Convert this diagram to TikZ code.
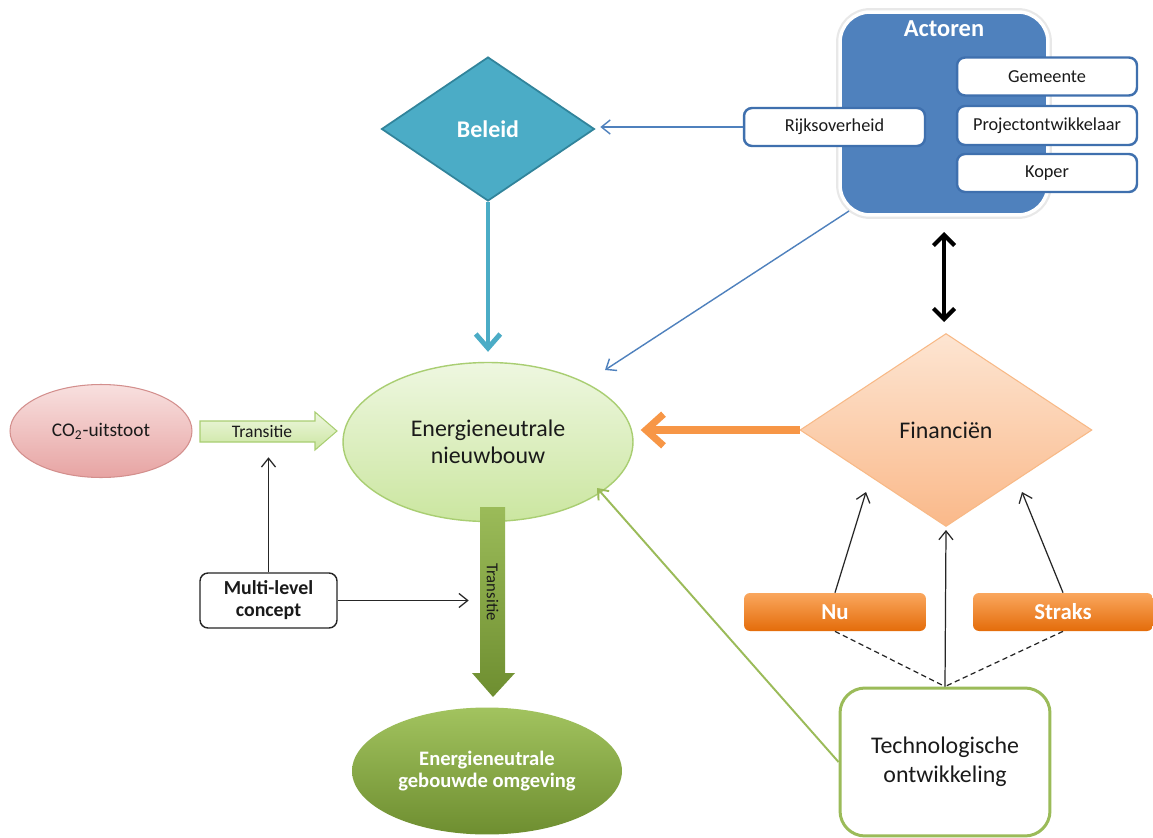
\documentclass[tikz,border=0pt]{standalone}
\usepackage{fontspec}
\setmainfont{Carlito}
\usetikzlibrary{shapes.geometric,arrows.meta,calc}
\definecolor{actblue}{HTML}{4F81BD}
\definecolor{boxblue}{HTML}{3F70AE}
\definecolor{tealA}{HTML}{4BACC6}
\definecolor{tealB}{HTML}{31849B}
\definecolor{lgreenA}{HTML}{EEF7E0}
\definecolor{lgreenB}{HTML}{CBE6A0}
\definecolor{lgreenD}{HTML}{A9CE72}
\definecolor{ogreen}{HTML}{9BBB59}
\definecolor{dgreenA}{HTML}{A2C35F}
\definecolor{dgreenB}{HTML}{6E8E30}
\definecolor{peachA}{HTML}{FDE5D2}
\definecolor{peachB}{HTML}{FAB98A}
\definecolor{peachD}{HTML}{F8B986}
\definecolor{orng}{HTML}{F79646}
\definecolor{orngA}{HTML}{FAA75E}
\definecolor{orngB}{HTML}{E46C0A}
\definecolor{pinkA}{HTML}{F8E0DF}
\definecolor{pinkB}{HTML}{E7A4A3}
\definecolor{pinkD}{HTML}{D38F8D}
\definecolor{txt}{HTML}{1A1A1A}
\tikzset{
  bigtxt/.style={font=\fontsize{13.6}{15.5}\selectfont, text=txt},
  smalltxt/.style={font=\fontsize{10.4}{12}\selectfont, text=txt},
  actorbox/.style={draw=boxblue, line width=1.4pt, fill=white, rounded corners=0.16cm,
    minimum height=0.76cm, minimum width=3.6cm, inner sep=0pt, smalltxt},
  orangebox/.style={rounded corners=0.12cm, top color=orngA, bottom color=orngB,
    minimum height=0.76cm, inner sep=0pt, text=white,
    font=\bfseries\fontsize{13}{15}\selectfont},
  thinblue/.style={line width=0.8pt, actblue, -{Straight Barb[length=5pt,width=8pt]}},
  thinblack/.style={line width=0.7pt, black!85, -{Straight Barb[length=5pt,width=8pt]}},
}
\begin{document}
\begin{tikzpicture}[x=0.02cm,y=-0.02cm]
\useasboundingbox (0,0) rectangle (1153,838);
\fill[white] (0,0) rectangle (1153,838);

% Actoren group
\node[rounded corners=0.6cm, fill=actblue, draw=white, line width=2pt,
  preaction={draw=black!9, line width=4.5pt},
  minimum width=4.16cm, minimum height=4.06cm, inner sep=0pt] (act) at (944,113.5) {};
\node[text=white, font=\bfseries\fontsize{13.9}{16}\selectfont] (actlbl) at (944,29) {Actoren};
\node[actorbox] (gem) at (1047,76.5) {Gemeente};
\node[actorbox, minimum height=0.78cm] (proj) at (1047,125.5) {Projectontwikkelaar};
\node[actorbox] (kop) at (1047,173) {Koper};
\node[actorbox, minimum width=3.62cm] (rijk) at (834.5,127) {Rijksoverheid};

% Beleid
\node[diamond, draw=tealB, fill=tealA, line width=1pt, minimum width=4.26cm,
  minimum height=2.88cm, inner sep=0pt, text=white,
  font=\bfseries\fontsize{13.6}{16}\selectfont] (beleid) at (488,129) {Beleid};

% Energieneutrale nieuwbouw
\node[ellipse, draw=lgreenD, line width=0.8pt, top color=lgreenA, bottom color=lgreenB,
  minimum width=5.8cm, minimum height=3.18cm, inner sep=0pt, align=center, bigtxt]
  (ell) at (488,442) {Energieneutrale\\nieuwbouw};

% Financien
\node[diamond, draw=peachD, line width=0.6pt, top color=peachA, bottom color=peachB,
  minimum width=5.84cm, minimum height=3.86cm, inner sep=0pt, bigtxt]
  (fin) at (946,430) {Financiën};

% Nu / Straks
\node[orangebox, minimum width=3.64cm] (nu) at (835,612) {Nu};
\node[orangebox, minimum width=3.6cm] (straks) at (1063,612) {Straks};

% Technologische ontwikkeling
\node[draw=ogreen, line width=1.7pt, rounded corners=0.5cm, fill=white,
  minimum width=4.2cm, minimum height=2.96cm, inner sep=0pt, align=center,
  font=\fontsize{13.6}{16.5}\selectfont, text=txt] (tech) at (945,762)
  {Technologische\\ontwikkeling};

% CO2
\node[ellipse, draw=pinkD, line width=0.6pt, top color=pinkA, bottom color=pinkB,
  minimum width=3.64cm, minimum height=1.86cm, inner sep=0pt,
  font=\fontsize{11}{13}\selectfont, text=txt] (co2) at (101,431) {CO\textsubscript{2}-uitstoot};

% Transitie block arrow (horizontal)
\draw[draw=lgreenD, line width=0.6pt, top color=lgreenA, bottom color=lgreenB]
  (200,421) -- (315,421) -- (315,412) -- (337,431) -- (315,450) -- (315,442) -- (200,442) -- cycle;
\node[font=\fontsize{10}{12}\selectfont, text=txt] (trans1) at (262,431) {Transitie};

% Multi-level concept
\node[draw=black!85, line width=0.8pt, rounded corners=0.16cm, fill=white,
  minimum width=2.74cm, minimum height=1.1cm, inner sep=0pt, align=center,
  font=\bfseries\fontsize{11.3}{12.5}\selectfont, text=txt] (ml) at (268.5,600.5)
  {Multi-level\\concept};

% Big green arrow (vertical)
\draw[draw=none, top color=ogreen, bottom color=dgreenB]
  (480,507) -- (505,507) -- (505,673) -- (515,673) -- (493,697) -- (472,673) -- (480,673) -- cycle;
\node[rotate=-90, font=\fontsize{9.5}{11}\selectfont, text=txt] (trans2) at (492.5,592) {Transitie};

% Energieneutrale gebouwde omgeving
\node[ellipse, top color=dgreenA, bottom color=dgreenB, minimum width=5.4cm,
  minimum height=2.54cm, inner sep=0pt, align=center, text=white,
  font=\bfseries\fontsize{11.7}{13}\selectfont] (geb) at (487,771)
  {Energieneutrale\\gebouwde omgeving};

% Connector end points
\coordinate (actout) at (849,211);
\coordinate (ellin1) at (605,370);
\coordinate (ellin2) at (597,488);
\coordinate (finin1) at (866,492);
\coordinate (finin3) at (1022,492);

% Connectors
\draw[thinblue] (rijk.west) -- ($(beleid.east |- rijk.west)+(5,0)$);
\draw[line width=2.8pt, tealA, -{Straight Barb[length=8pt,width=14pt]}]
  (beleid.south) -- ($(ell.north)+(0,-10)$);
\draw[thinblue] (actout) -- (ellin1);
\draw[line width=2.4pt, black, {Straight Barb[length=6pt,width=12pt]}-{Straight Barb[length=6pt,width=12pt]}]
  (944,232) -- (944,322);
\draw[line width=4pt, orng, -{Straight Barb[length=10pt,width=18pt]}]
  (fin.west) -- ($(ell.east)+(7,-12)$);
\draw[thinblack] (nu.north) -- (finin1);
\draw[thinblack] (tech.north) -- ($(fin.south)+(0,3)$);
\draw[thinblack] (straks.north) -- (finin3);
\draw[line width=0.7pt, black!85, dash pattern=on 3pt off 2pt] (nu.south) -- (tech.north);
\draw[line width=0.7pt, black!85, dash pattern=on 3pt off 2pt] (straks.south) -- (tech.north);
\draw[line width=1.1pt, ogreen, -{Straight Barb[length=5pt,width=8pt]}] (tech.west) -- (ellin2);
\draw[thinblack] (ml.north) -- ($(ml.north)+(0,-115)$);
\draw[thinblack] (ml.east) -- ($(ml.east)+(131,0)$);
\end{tikzpicture}
\end{document}
